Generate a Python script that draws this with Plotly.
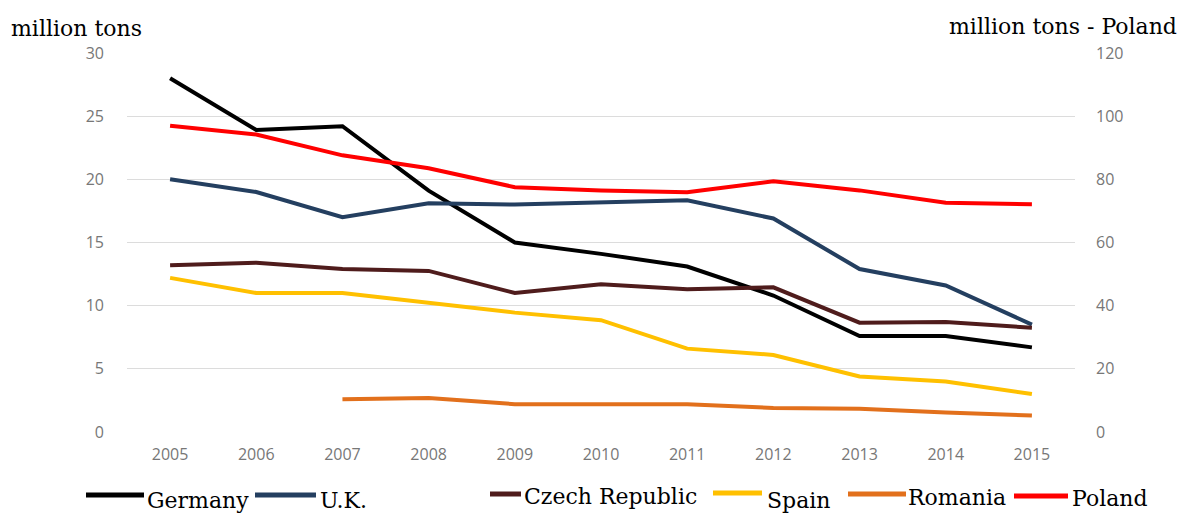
import plotly.graph_objects as go

years = ["2005", "2006", "2007", "2008", "2009", "2010", "2011", "2012", "2013", "2014", "2015"]

germany = [28.0, 23.9, 24.2, 19.1, 15.0, 14.1, 13.1, 10.8, 7.6, 7.6, 6.7]
uk = [20.0, 19.0, 17.0, 18.1, 18.0, 18.2, 18.35, 16.9, 12.9, 11.6, 8.5]
czech = [13.2, 13.4, 12.9, 12.75, 11.0, 11.7, 11.3, 11.45, 8.65, 8.7, 8.25]
spain = [12.2, 11.0, 11.0, 10.2, 9.45, 8.85, 6.6, 6.1, 4.4, 4.0, 3.0]
romania = [None, None, 2.6, 2.7, 2.2, 2.2, 2.2, 1.9, 1.85, 1.55, 1.3]
poland = [97.0, 94.2, 87.6, 83.5, 77.5, 76.5, 75.9, 79.4, 76.5, 72.6, 72.1]

left_ticks = [0, 5, 10, 15, 20, 25, 30]
right_ticks = [0, 20, 40, 60, 80, 100, 120]

series = [
    ("Germany", germany, "#000000", "y"),
    ("U.K.", uk, "#243f60", "y"),
    ("Czech Republic", czech, "#4f1c1c", "y"),
    ("Spain", spain, "#ffc000", "y"),
    ("Romania", romania, "#e2701c", "y"),
    ("Poland", poland, "#ff0000", "y2"),
]

fig = go.Figure()
for name, vals, color, axis in series:
    fig.add_trace(go.Scatter(
        x=years, y=vals, name=name, mode="lines",
        line=dict(color=color, width=4),
        yaxis=axis, showlegend=False, connectgaps=False,
    ))

tick_font = dict(family="Open Sans, sans-serif", size=16, color="#777777")
serif = "DejaVu Serif, serif"
text_color = "#000000"

fig.update_layout(
    width=1181, height=515,
    margin=dict(l=127, r=106, t=53, b=83),
    paper_bgcolor="white", plot_bgcolor="white",
    xaxis=dict(
        type="category", range=[-0.5, 10.5], showgrid=False, zeroline=False,
        showline=False, tickfont=tick_font, ticks="", ticklabelstandoff=11,
    ),
    yaxis=dict(
        range=[0, 30], tickvals=left_ticks, showgrid=True, gridcolor="#dcdcdc",
        gridwidth=1, zeroline=False, showline=False, tickfont=tick_font,
        ticklabelstandoff=22,
    ),
    yaxis2=dict(
        range=[0, 120], tickvals=right_ticks, overlaying="y", side="right",
        showgrid=False, zeroline=False, showline=False, tickfont=tick_font,
        ticklabelstandoff=20,
    ),
)

# axis titles
fig.add_annotation(text="million tons", xref="paper", yref="paper",
                   x=(9 - 127) / 948, y=(432 - 28) / 379, xanchor="left",
                   yanchor="middle", showarrow=False,
                   font=dict(family=serif, size=22, color=text_color))
fig.add_annotation(text="million tons - Poland", xref="paper", yref="paper",
                   x=(1179 - 127) / 948, y=(432 - 27) / 379, xanchor="right",
                   yanchor="middle", showarrow=False,
                   font=dict(family=serif, size=22, color=text_color))

# hand-placed legend along the bottom
legend_items = [
    # name, colour, line x0, line x1, line y, text x, text y
    ("Germany", "#000000", 86, 144, 495, 145, 500),
    ("U.K.", "#243f60", 255, 316, 495, 318, 500),
    ("Czech Republic", "#4f1c1c", 490, 521, 494, 522, 496),
    ("Spain", "#ffc000", 713, 762, 493, 765, 500),
    ("Romania", "#e2701c", 848, 906, 494, 906, 497),
    ("Poland", "#ff0000", 1014, 1068, 496, 1070, 498),
]
for name, color, x0, x1, ly, tx, ty in legend_items:
    fig.add_shape(type="line", xref="paper", yref="paper",
                  x0=(x0 - 127) / 948, x1=(x1 - 127) / 948,
                  y0=(432 - ly) / 379, y1=(432 - ly) / 379,
                  line=dict(color=color, width=5))
    fig.add_annotation(text=name, xref="paper", yref="paper",
                       x=(tx - 127) / 948, y=(432 - ty) / 379,
                       xanchor="left", yanchor="middle", showarrow=False,
                       font=dict(family=serif, size=22, color=text_color))

fig.write_html("out.html")
